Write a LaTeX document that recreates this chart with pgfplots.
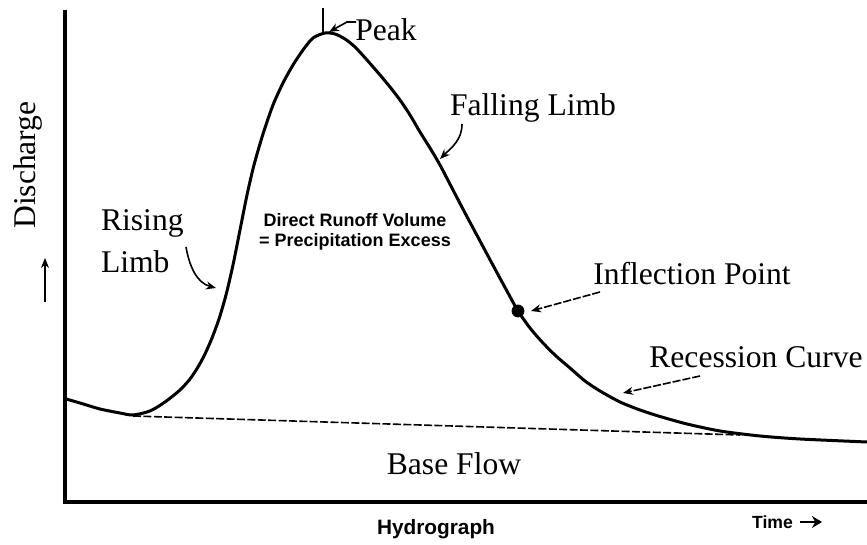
\documentclass[border=0pt]{standalone}
\usepackage{pgfplots}
\pgfplotsset{compat=1.18}
\usepackage{fontspec}
\setmainfont{Liberation Serif}
\newfontfamily\arialb{Liberation Sans}[BoldFont={* Bold}]
\usetikzlibrary{arrows.meta}
\begin{document}
\begin{tikzpicture}
\path[use as bounding box] (0,0) rectangle (433.5pt,272.5pt);
\begin{axis}[at={(0,0)}, anchor=south west, scale only axis,
  width=433.5pt, height=272.5pt,
  xmin=0, xmax=867, ymin=0, ymax=545,
  hide axis, clip=false]
% axes
\addplot[black, line width=1.7pt, no marks] coordinates {(65,535) (65,43) (867,43)};
% hydrograph
\addplot[black, line width=1.5pt, no marks, smooth, tension=0.45] coordinates {
(66,146) (80,142) (100,136) (120,132) (133,130) (150,134) (165,143) (180,155)
(190,166) (198,178) (205,191) (212,207) (219,226) (226,250) (233,280) (240,315)
(247,350) (254,380) (263,411) (273,440) (283,462) (293,480) (303,495) (313,507)
(325,512) (335,511) (345,506) (355,498) (367,485) (380,470) (390,458) (400,445)
(410,430) (420,413) (430,397) (440,380) (453,355) (465,332) (480,304) (495,276)
(508,252) (518,234) (530,217) (543,202) (556,189) (570,177) (585,164) (600,154)
(620,143) (640,135) (660,128.5) (687,121) (720,114) (760,109) (800,106) (867,103)};
% base flow
\addplot[black, line width=0.8pt, dash pattern=on 4pt off 1.2pt, no marks] coordinates {(133,129) (740,110)};
% inflection point
\addplot[black, only marks, mark=*, mark size=3pt] coordinates {(518,234)};
% peak marker
\draw[black, line width=0.8pt] (323,537) -- (323,513);
\draw[black, line width=0.8pt, -{Stealth[length=5pt,width=4pt]}] (356,523) -- (347,523) -- (329,513);
\node[font=\fontsize{15.8}{18}\selectfont] at (386,515) {Peak};
% falling limb
\node[font=\fontsize{15.8}{18}\selectfont] at (533,437) {Falling Limb};
\draw[black, line width=0.8pt, -{Stealth[length=5pt,width=4pt]}] (462,421) to[out=-90,in=45] (440,386);
% rising limb
\node[font=\fontsize{15.8}{18}\selectfont, anchor=west] at (94,322) {Rising};
\node[font=\fontsize{15.8}{18}\selectfont, anchor=west] at (94,283) {Limb};
\draw[black, line width=0.8pt, -{Stealth[length=5pt,width=4pt]}] (186,298) to[out=-80,in=165] (216,257);
% direct runoff
\node[font=\arialb\bfseries\fontsize{9}{10}\selectfont] at (355,325) {Direct Runoff Volume};
\node[font=\arialb\bfseries\fontsize{9}{10}\selectfont] at (355,303) {= Precipitation Excess};
% inflection
\node[font=\fontsize{15.8}{18}\selectfont] at (692,271) {Inflection Point};
\draw[black, line width=0.8pt, dash pattern=on 4pt off 1pt, -{Stealth[length=5pt,width=4pt]}] (600,253) -- (531,234);
% recession
\node[font=\fontsize{15.8}{18}\selectfont] at (756,188) {Recession Curve};
\draw[black, line width=0.8pt, dash pattern=on 4pt off 1pt, -{Stealth[length=5pt,width=4pt]}] (700,169) -- (623,152);
% base flow label
\node[font=\fontsize{15.8}{18}\selectfont] at (454,81) {Base Flow};
% y label
\node[font=\fontsize{15.8}{18}\selectfont, rotate=90] at (28,380) {Discharge};
\draw[black, line width=0.8pt, -{Stealth[length=5pt,width=4pt]}] (45,243) -- (45,287);
% x labels
\node[font=\arialb\bfseries\fontsize{10.4}{12}\selectfont] at (436,16) {Hydrograph};
\node[font=\arialb\bfseries\fontsize{8.8}{10}\selectfont, anchor=west] at (745,23) {Time};
\draw[black, line width=1.3pt, -{Stealth[length=5pt,width=6pt]}] (800,23) -- (822,23);
\end{axis}
\end{tikzpicture}
\end{document}
